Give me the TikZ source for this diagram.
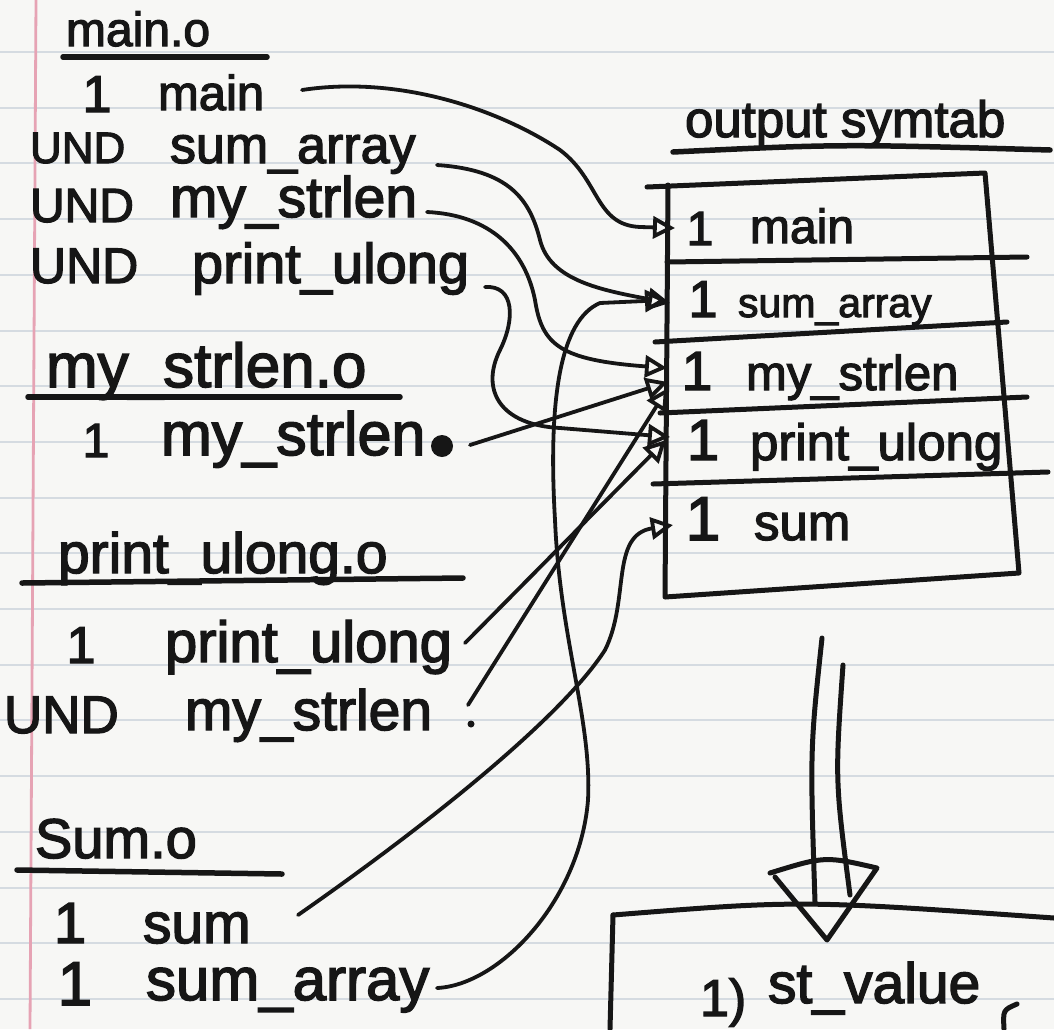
\documentclass[tikz,border=0pt]{standalone}
\usepackage{fontspec}
\setmainfont{Liberation Sans}
\newfontfamily\hwfont{Liberation Sans}[FakeBold=2.5]
\usetikzlibrary{arrows.meta}
\definecolor{inkc}{HTML}{161616}
\definecolor{paperc}{HTML}{F7F7F5}
\definecolor{ruleblue}{HTML}{D5DBE1}
\definecolor{marginpink}{HTML}{E6A3B4}
\newcommand{\fsz}[1]{\hwfont\fontsize{#1}{#1}\selectfont}
\begin{document}
\begin{tikzpicture}[x=1pt,y=-1pt,
  hw/.style={inner sep=0pt, outer sep=0pt, text=inkc, anchor=base west},
  num/.style={inner sep=0pt, outer sep=0pt, text=inkc, anchor=base},
  pen/.style={draw=inkc, line width=5pt, line cap=round, line join=round},
  uline/.style={pen, line width=5.5pt},
  link/.style={draw=inkc, line width=3.8pt, line cap=round, line join=round,
    -{Triangle[open, length=22pt, width=22pt]}}]
\useasboundingbox (0,0) rectangle (1054,1029);
\fill[paperc] (0,0) rectangle (1054,1029);
% ruled paper
\foreach \k in {0,...,17} \draw[ruleblue, line width=2pt] (0,{52+55.7*\k}) -- (1054,{52+55.7*\k});
\draw[marginpink, line width=2.8pt] (36,0) -- (30,1029);

% ---------- main.o ----------
\node[hw, font=\fsz{48}] (tmaino) at (66,46) {main.o};
\draw[uline] (63,57) -- (267,57);
\node[num, font=\fsz{52}] (b1) at (97,112) {1};
\node[hw, font=\fsz{49}] (n1) at (158,110) {main};
\node[hw, font=\fsz{44}] (b2) at (30,163) {UND};
\node[hw, font=\fsz{52}] (n2) at (170,163) {sum\_array};
\node[hw, font=\fsz{48}] (b3) at (30,222) {UND};
\node[hw, font=\fsz{57}] (n3) at (170,217) {my\_strlen};
\node[hw, font=\fsz{50}] (b4) at (30,283) {UND};
\node[hw, font=\fsz{56}] (n4) at (192,283) {print\_ulong};

% ---------- my_strlen.o ----------
\node[hw, font=\fsz{62}] (tmso) at (46,387) {my\_strlen.o};
\draw[uline] (28,397) -- (400,397);
\node[num, font=\fsz{48}] (b5) at (96,457) {1};
\node[hw, font=\fsz{61}] (n5) at (161,455) {my\_strlen};
\node[circle, fill=inkc, minimum size=22pt, inner sep=0pt] (dot) at (442,446) {};

% ---------- print_ulong.o ----------
\node[hw, font=\fsz{57}] (tpuo) at (58,573) {print\_ulong.o};
\draw[uline] (22,583) -- (463,578);
\node[num, font=\fsz{52}] (b6) at (81,663) {1};
\node[hw, font=\fsz{58}] (n6) at (165,662) {print\_ulong};
\node[hw, font=\fsz{53}] (b7) at (4,733) {UND};
\node[hw, font=\fsz{57}] (n7) at (185,730) {my\_strlen};
\node[circle, fill=inkc, minimum size=7pt, inner sep=0pt] (bang) at (471,724) {};

% ---------- Sum.o ----------
\node[hw, font=\fsz{56}] (tsumo) at (35,858) {Sum.o};
\draw[uline] (17,870) -- (282,874);
\node[num, font=\fsz{58}] (b8) at (70,943) {1};
\node[hw, font=\fsz{57}] (n8) at (143,943) {sum};
\node[num, font=\fsz{62}] (b9) at (75,1005) {1};
\node[hw, font=\fsz{60}] (n9) at (146,1000) {sum\_array};

% ---------- output symtab ----------
\node[hw, font=\fsz{51}] (tsym) at (685,137) {output symtab};
\draw[uline] (673,152) .. controls (840,144) .. (1050,150);
% table box
\draw[pen] (647,187) -- (985,173) -- (1019,573) -- (665,597) -- (668,185);
\draw[pen] (667,262) -- (1027,257);
\draw[pen] (655,342) -- (1007,322);
\draw[pen] (660,413) -- (1027,397);
\draw[pen] (653,484) -- (1048,472);
\node[num, font=\fsz{48}] (r1b) at (700,245) {1};
\node[hw, font=\fsz{48}] (r1n) at (750,243) {main};
\node[num, font=\fsz{52}] (r2b) at (703,317) {1};
\node[hw, font=\fsz{41}] (r2n) at (738,317) {sum\_array};
\node[num, font=\fsz{55}] (r3b) at (697,390) {1};
\node[hw, font=\fsz{49}] (r3n) at (746,390) {my\_strlen};
\node[num, font=\fsz{58}] (r4b) at (703,460) {1};
\node[hw, font=\fsz{51}] (r4n) at (750,460) {print\_ulong};
\node[num, font=\fsz{62}] (r5b) at (703,540) {1};
\node[hw, font=\fsz{51}] (r5n) at (754,540) {sum};

% ---------- connectors ----------
\coordinate (sA) at (302,90);   \coordinate (tA) at (675,228);
\coordinate (sB) at (437,165);  \coordinate (tB) at (670,303);
\coordinate (sC) at (427,212);  \coordinate (tC) at (667,368);
\coordinate (sD) at (485,287);  \coordinate (tD) at (670,437);
\coordinate (sE) at (470,445);  \coordinate (tE) at (668,382);
\coordinate (sF1) at (465,643); \coordinate (tF1) at (666,440);
\coordinate (sF2) at (468,705); \coordinate (tF2) at (668,388);
\coordinate (sG) at (298,915);  \coordinate (tG) at (673,525);
\coordinate (sH) at (437,988);  \coordinate (tH) at (667,300);

\draw[link] (sA) .. controls (400,75) and (500,110) .. (560,150)
  .. controls (600,180) and (595,225) .. (640,227) -- (tA);
\draw[link] (sB) .. controls (510,170) and (530,200) .. (540,240)
  .. controls (550,280) and (600,290) .. (tB);
\draw[link] (sC) .. controls (490,215) and (525,250) .. (535,300)
  .. controls (542,345) and (560,360) .. (tC);
\draw[link] (sD) .. controls (515,285) and (515,320) .. (500,350)
  .. controls (480,390) and (500,425) .. (560,428) -- (tD);
\draw[link] (sE) -- (tE);
\draw[link] (sF1) -- (tF1);
\draw[link] (sF2) -- (tF2);
\draw[link] (sG) .. controls (420,830) and (560,720) .. (605,650)
  .. controls (630,600) and (610,535) .. (tG);
\draw[link] (sH) .. controls (500,985) and (580,900) .. (588,800)
  .. controls (592,720) and (560,640) .. (555,520)
  .. controls (548,400) and (560,320) .. (600,303) -- (tH);

% ---------- big arrow and lower box ----------
\draw[pen] (822,638) .. controls (810,750) .. (815,902);
\draw[pen] (843,665) .. controls (835,780) .. (850,895);
\draw[pen] (770,873) .. controls (825,856) .. (877,868) -- (827,940) -- (775,877);
\draw[pen] (613,915) .. controls (800,900) .. (1054,918);
\draw[pen] (613,915) -- (610,1029);
\node[hw, font=\fsz{52}] (l1) at (700,1016) {1)};
\node[hw, font=\fsz{57}] (l1n) at (768,1003) {st\_value};
\draw[pen] (1017,1004) .. controls (1003,1010) .. (1004,1029);
\end{tikzpicture}
\end{document}
